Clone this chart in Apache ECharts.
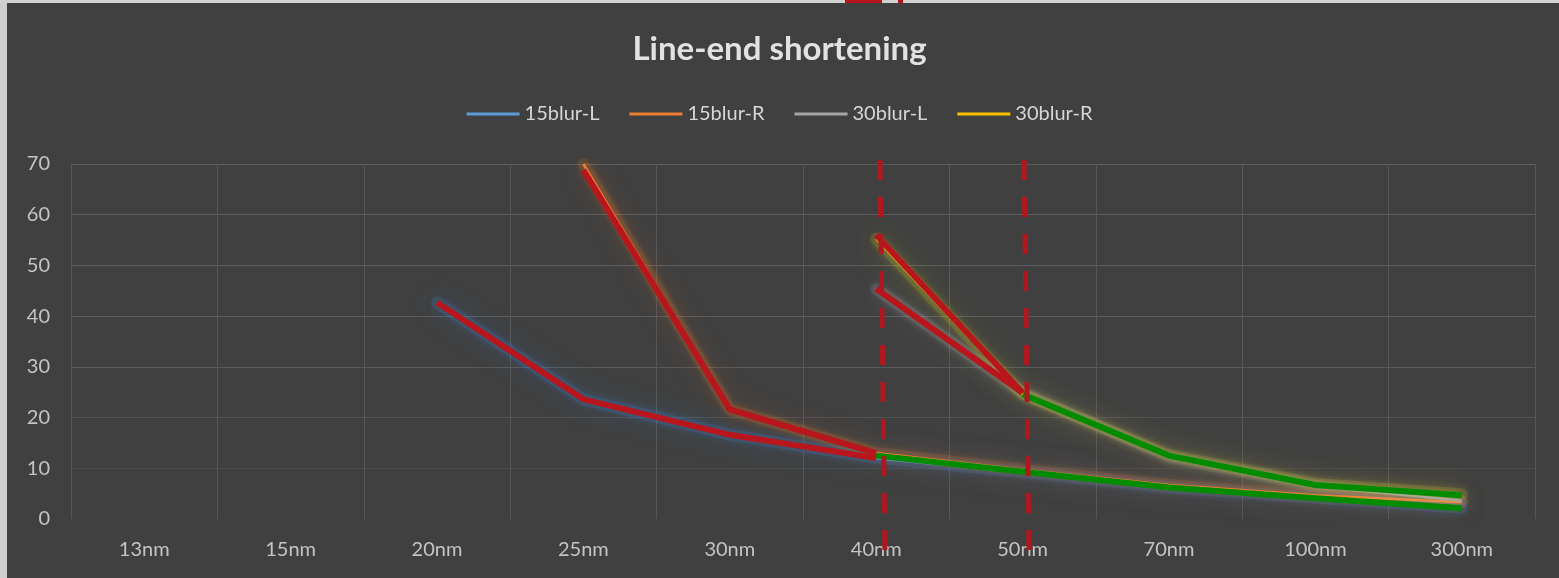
<!DOCTYPE html>
<html>
<head>
<meta charset="utf-8">
<script src="https://cdn.jsdelivr.net/npm/echarts@6/dist/echarts.min.js"></script>
<style>
html,body{margin:0;padding:0;background:#404040;}
#c{width:1559px;height:578px;}
</style>
</head>
<body>
<div id="c"></div>
<script>
// ---- data ----
var categories = ['13nm','15nm','20nm','25nm','30nm','40nm','50nm','70nm','100nm','300nm'];
var yTicks = [0, 10, 20, 30, 40, 50, 60, 70];
var blur15L = [null, null, 42.7, 23.6, 16.6, 12.0, 9.2, 6.2, 4.2, 2.2];
var blur15R = [null, null, null, 70, 21.6, 13.0, 9.7, 6.7, 4.7, 3.3];
var blur30L = [null, null, null, null, null, 45.4, 24.9, 12.2, 6.5, 3.6];
var blur30R = [null, null, null, null, null, 55.3, 24.6, 12.6, 6.9, 4.9];
// hand-drawn annotation overlays (red = before, green = after)
var redOn15L = [null, null, 42.7, 23.6, 16.6, 12.0, null, null, null, null];
var redOn15R = [null, null, null, 68.8, 21.6, 13.0, null, null, null, null];
var redOn30L = [null, null, null, null, null, 45.4, 24.9, null, null, null];
var redOn30R = [null, null, null, null, null, 56.0, 24.9, null, null, null];
var greenLower = [null, null, null, null, null, 12.5, 9.3, 6.2, 4.1, 2.1];
var greenUpper = [null, null, null, null, null, null, 24.6, 12.5, 6.7, 4.7];
// dashed markers: [category position, value] endpoints
var dash40 = [[5.526, 70.8], [5.560, -6.9]];
var dash50 = [[6.510, 70.8], [6.544, -6.9]];

var seriesNames = ['15blur-L', '15blur-R', '30blur-L', '30blur-R'];
var seriesData = [blur15L, blur15R, blur30L, blur30R];
var seriesColors = ['#5b9bd5', '#ed7d31', '#a5a5a5', '#ffc000'];
var glowColors = ['rgba(60,130,210,0.16)', 'rgba(230,120,40,0.14)', 'rgba(200,200,200,0.10)', 'rgba(200,190,40,0.16)'];
var glowShadow = ['rgba(60,130,210,1)', 'rgba(230,120,40,1)', 'rgba(210,210,210,0.9)', 'rgba(210,200,40,1)'];

var series = [];
// soft glow layers under each data line
seriesNames.forEach(function (n, i) {
  series.push({
    type: 'line', data: seriesData[i], symbol: 'none', silent: true, z: 1,
    lineStyle: { width: 12, color: glowColors[i], shadowBlur: 26, shadowColor: glowShadow[i], cap: 'round', join: 'round' }
  });
});
seriesNames.forEach(function (n, i) {
  series.push({
    name: n, type: 'line', data: seriesData[i], symbol: 'none', connectNulls: false,
    color: seriesColors[i],
    lineStyle: { width: 2.5, color: seriesColors[i], shadowBlur: 10, shadowColor: glowShadow[i] },
    z: 2
  });
});
function overlay(data, color) {
  return { type: 'line', data: data, symbol: 'none', silent: true, z: 5,
    lineStyle: { width: 6, color: color, cap: 'butt', join: 'miter' } };
}
series.push(overlay(redOn15L, '#b8161c'));
series.push(overlay(redOn15R, '#b8161c'));
series.push(overlay(redOn30L, '#b8161c'));
series.push(overlay(redOn30R, '#b8161c'));
series.push(overlay(greenLower, '#008c00'));
series.push(overlay(greenUpper, '#008c00'));
[dash40, dash50].forEach(function (d) {
  series.push({ type: 'line', data: d, xAxisIndex: 1, yAxisIndex: 0, symbol: 'none', silent: true,
    clip: false, z: 6, lineStyle: { width: 5, color: '#b01820', type: [20, 17], cap: 'butt' } });
});

var chart = echarts.init(document.getElementById('c'), null, { renderer: 'canvas' });
chart.setOption({
  backgroundColor: '#404040',
  animation: false,
  title: {
    text: 'Line-end shortening', left: 'center', top: 28,
    textStyle: { color: '#e2e2e2', fontSize: 33, fontWeight: 'bold', fontFamily: 'Lato' }
  },
  legend: {
    data: seriesNames, top: 99, left: 'center', icon: 'rect', itemWidth: 53, itemHeight: 3,
    itemGap: 30,
    textStyle: { color: '#d6d6d6', fontSize: 20, fontFamily: 'Lato' }
  },
  grid: { left: 71, right: 24, top: 164, bottom: 59, containLabel: false },
  xAxis: [{
    type: 'category', data: categories, boundaryGap: true,
    axisLine: { show: false }, axisTick: { show: false },
    axisLabel: { color: '#c4c4c4', fontSize: 20, fontFamily: 'Lato', margin: 21, interval: 0 },
    splitLine: { show: true, interval: 0, lineStyle: { color: '#585858', width: 1 } }
  }, {
    type: 'value', min: 0, max: 10, show: false
  }],
  yAxis: {
    type: 'value', min: yTicks[0], max: yTicks[yTicks.length - 1], interval: 10,
    axisLine: { show: false }, axisTick: { show: false },
    axisLabel: { color: '#c4c4c4', fontSize: 20, fontFamily: 'Lato', margin: 21 },
    splitLine: { lineStyle: { color: ['rgba(0,0,0,0)', '#4b4b4b', '#535353', '#5a5a5a', '#5c5c5c', '#5e5e5e', '#5e5e5e', '#606060'], width: 1 } }
  },
  graphic: [
    { type: 'rect', left: 0, top: 0, shape: { width: 7, height: 578 }, style: { fill: '#cfcfcf' }, z: 100 },
    { type: 'rect', left: 0, top: 0, shape: { width: 1559, height: 3 }, style: { fill: '#d2d2d2' }, z: 100 },
    { type: 'rect', left: 845, top: 0, shape: { width: 37, height: 3 }, style: { fill: '#b8161c' }, z: 101 },
    { type: 'rect', left: 898, top: 0, shape: { width: 5, height: 3 }, style: { fill: '#b8161c' }, z: 101 }
  ],
  series: series
});
</script>
</body>
</html>
